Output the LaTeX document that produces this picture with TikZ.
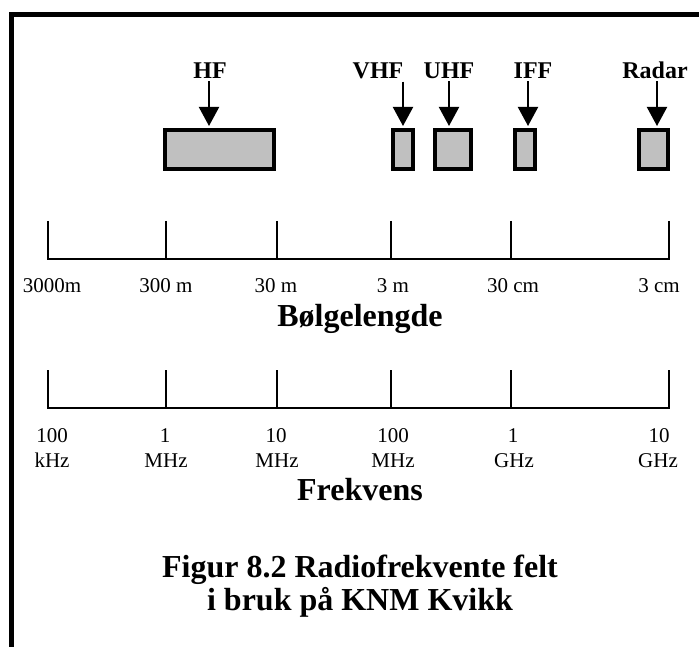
\documentclass[tikz,border=0pt]{standalone}
\usepackage{fontspec}
\setmainfont{Liberation Serif}
\usetikzlibrary{arrows.meta}
\definecolor{bandgray}{HTML}{C0C0C0}
\begin{document}
\begin{tikzpicture}[x=1pt,y=-1pt,
  toplbl/.style={font=\fontsize{24}{28}\selectfont\bfseries, anchor=base, inner sep=0pt},
  band/.style={draw, line width=4pt, fill=bandgray, inner sep=0pt, minimum height=39pt},
  ptr/.style={line width=2pt, -{Triangle[length=19pt,width=20pt]}},
  scaleline/.style={line width=2pt},
  small/.style={font=\fontsize{21}{25}\selectfont, anchor=base, inner sep=0pt},
  big/.style={font=\fontsize{32}{33}\selectfont\bfseries, inner sep=0pt},
  frame/.style={line width=4.4pt}]
\useasboundingbox (0,0) rectangle (699,647);
% frame
\draw[frame] (11.3,647) -- (11.3,14.5) -- (699,14.5);
% top labels
\node[toplbl] (hfl) at (210,79) {HF};
\node[toplbl] (vhfl) at (378,79) {VHF};
\node[toplbl] (uhfl) at (449,79) {UHF};
\node[toplbl] (iffl) at (533,79) {IFF};
\node[toplbl] (radl) at (655,79) {Radar};
% bands
\node[band, minimum width=109pt] (hfb) at (219.5,149.5) {};
\node[band, minimum width=20pt] (vhfb) at (403,149.5) {};
\node[band, minimum width=36pt] (uhfb) at (453,149.5) {};
\node[band, minimum width=20pt] (iffb) at (525,149.5) {};
\node[band, minimum width=29pt] (radb) at (653.5,149.5) {};
% arrow x positions
\coordinate (hfx) at (209,0);
\coordinate (vhfx) at (403,0);
\coordinate (uhfx) at (449,0);
\coordinate (iffx) at (528,0);
\coordinate (radx) at (657,0);
\draw[ptr] ([yshift=-2pt]hfl.south -| hfx) -- ([yshift=2pt]hfb.north -| hfx);
\draw[ptr] ([yshift=-2pt]vhfl.south -| vhfx) -- ([yshift=2pt]vhfb.north -| vhfx);
\draw[ptr] ([yshift=-2pt]uhfl.south -| uhfx) -- ([yshift=2pt]uhfb.north -| uhfx);
\draw[ptr] ([yshift=-2pt]iffl.south -| iffx) -- ([yshift=2pt]iffb.north -| iffx);
\draw[ptr] ([yshift=-2pt]radl.south -| radx) -- ([yshift=2pt]radb.north -| radx);
% wavelength scale
\draw[scaleline] (47,259) -- (670,259);
\foreach \x in {48,166,277,391,511,669} \draw[scaleline] (\x,221) -- (\x,259);
\node[small] (w1) at (52,292) {3000m};
\node[small] (w2) at (166,292) {300 m};
\node[small] (w3) at (276,292) {30 m};
\node[small] (w4) at (393,292) {3 m};
\node[small] (w5) at (513,292) {30 cm};
\node[small] (w6) at (659,292) {3 cm};
\node[big, anchor=base] (wl) at (360,326) {Bølgelengde};
% frequency scale
\draw[scaleline] (47,408) -- (670,408);
\foreach \x in {48,166,277,391,511,669} \draw[scaleline] (\x,370) -- (\x,408);
\node[small] (f1a) at (52,442) {100};
\node[small] (f1b) at (52,467) {kHz};
\node[small] (f2a) at (165,442) {1};
\node[small] (f2b) at (166,467) {MHz};
\node[small] (f3a) at (276,442) {10};
\node[small] (f3b) at (277,467) {MHz};
\node[small] (f4a) at (393,442) {100};
\node[small] (f4b) at (393,467) {MHz};
\node[small] (f5a) at (513,442) {1};
\node[small] (f5b) at (514,467) {GHz};
\node[small] (f6a) at (659,442) {10};
\node[small] (f6b) at (658,467) {GHz};
\node[big, anchor=base] (fl) at (360,500) {Frekvens};
% caption
\node[big, anchor=base] (cap1) at (360,577) {Figur 8.2 Radiofrekvente felt};
\node[big, anchor=base] (cap2) at (360,610) {i bruk på KNM Kvikk};
\end{tikzpicture}
\end{document}
